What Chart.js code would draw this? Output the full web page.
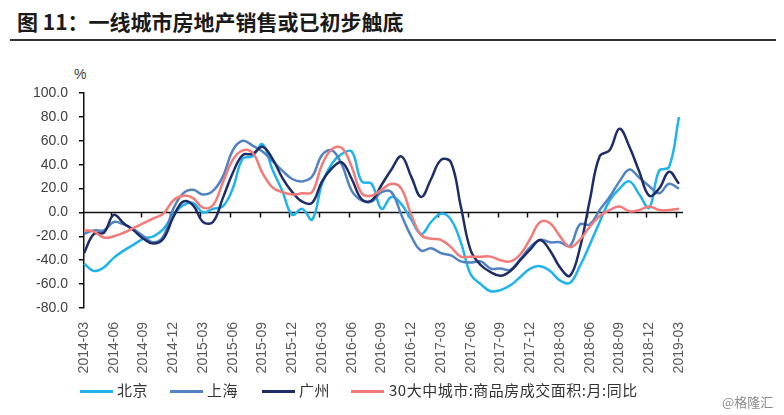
<!DOCTYPE html>
<html>
<head>
<meta charset="utf-8">
<script src="https://cdn.jsdelivr.net/npm/chart.js@4.4.0/dist/chart.umd.min.js"></script>
<style>
  html, body { margin: 0; padding: 0; background: #fff; }
  #wrap { position: relative; width: 784px; height: 415px; overflow: hidden; font-family: "Noto Sans CJK SC", sans-serif; }
  #title { position: absolute; left: 17px; top: 9px; font-size: 21px; line-height: 24px; font-weight: bold; color: #1a1a1a; white-space: nowrap; }
  #rule { position: absolute; left: 10px; top: 39px; width: 766px; border-top: 2px solid #333; }
  #unit { position: absolute; left: 74px; top: 66px; font: 14px "Liberation Sans", sans-serif; color: #404040; }
  #chart { position: absolute; left: 0; top: 0; }
  .lg { position: absolute; top: 380px; font-size: 15px; line-height: 20px; letter-spacing: 0.5px; color: #333; white-space: nowrap; }
  .sw { position: absolute; top: 390px; width: 33px; height: 3px; }
  #mark { position: absolute; left: 722px; top: 392px; font-size: 13px; color: #8a8a8a; }
</style>
</head>
<body>
<div id="wrap">
  <div id="title">图 11：一线城市房地产销售或已初步触底</div>
  <div id="rule"></div>
  <div id="unit">%</div>
  <canvas id="chart" width="784" height="415"></canvas>
  <div class="sw" style="left:80px;background:#1fb3ec"></div><div class="lg" style="left:117px">北京</div>
  <div class="sw" style="left:170px;background:#5282c2"></div><div class="lg" style="left:207px">上海</div>
  <div class="sw" style="left:262px;background:#1f2d66"></div><div class="lg" style="left:299px">广州</div>
  <div class="sw" style="left:351px;background:#f27a78"></div><div class="lg" style="left:389px">30大中城市:商品房成交面积:月:同比</div>
  <div id="mark">@格隆汇</div>
</div>
<script>
const months = [
  '2014-03','2014-04','2014-05','2014-06','2014-07','2014-08','2014-09','2014-10','2014-11','2014-12',
  '2015-01','2015-02','2015-03','2015-04','2015-05','2015-06','2015-07','2015-08','2015-09','2015-10','2015-11','2015-12',
  '2016-01','2016-02','2016-03','2016-04','2016-05','2016-06','2016-07','2016-08','2016-09','2016-10','2016-11','2016-12',
  '2017-01','2017-02','2017-03','2017-04','2017-05','2017-06','2017-07','2017-08','2017-09','2017-10','2017-11','2017-12',
  '2018-01','2018-02','2018-03','2018-04','2018-05','2018-06','2018-07','2018-08','2018-09','2018-10','2018-11','2018-12',
  '2019-01','2019-02','2019-03'
];

// 同比, %
const beijing = [-43,-49,-46,-38,-32,-27,-22,-20,-14,-2,6,8,0,3,5,20,45,47,57,36,18,-2,3,-6,24,41,49,51,26,24,3,13,7,-6,-18,-8,-1,-6,-25,-52,-60,-66,-65,-61,-54,-47,-45,-49,-57,-59,-45,-27,-8,10,20,26,15,4,35,38,80];
const shanghai = [-18,-15,-15,-8,-10,-14,-20,-25,-20,3,16,19,15,18,30,52,60,56,51,43,35,28,26,30,48,52,40,18,10,9,17,17,-2,-20,-32,-30,-34,-36,-41,-42,-41,-47,-47,-48,-39,-29,-23,-25,-25,-28,-10,-10,2,13,26,36,29,22,16,24,20];
const guangzhou = [-34,-18,-17,-2,-9,-15,-22,-26,-22,-4,9,6,-8,-8,12,33,48,49,55,45,29,17,9,8,26,37,42,28,11,10,23,36,47,30,13,28,44,42,5,-32,-44,-50,-53,-49,-40,-31,-23,-32,-46,-53,-30,10,47,52,70,55,34,14,20,34,24];
const city30 = [-15,-16,-21,-20,-17,-13,-9,-5,-1,10,14,12,4,6,25,44,52,50,33,21,17,15,16,17,40,53,54,38,16,14,19,24,20,-2,-19,-22,-23,-29,-37,-37,-37,-37,-40,-41,-35,-22,-8,-9,-20,-29,-23,-12,-3,2,5,1,2,5,2,2,3];

const seriesNames = ['北京', '上海', '广州', '30大中城市:商品房成交面积:月:同比'];
const seriesColors = ['#1fb3ec', '#5282c2', '#1f2d66', '#f27a78'];

// zero axis with tick marks every 3 months
const zeroAxis = {
  id: 'zeroAxis',
  beforeDatasetsDraw(chart) {
    const { ctx, chartArea, scales: { x, y } } = chart;
    const y0 = Math.round(y.getPixelForValue(0)) + 0.5;
    ctx.save();
    ctx.strokeStyle = '#111';
    ctx.lineWidth = 1.5;
    ctx.beginPath();
    ctx.moveTo(chartArea.left, y0);
    ctx.lineTo(chartArea.right + 4, y0);
    for (let i = 3; i < months.length; i += 3) {
      const px = Math.round(x.getPixelForValue(i)) - 2.5;
      ctx.moveTo(px, y0);
      ctx.lineTo(px, y0 + 5);
    }
    ctx.stroke();
    ctx.restore();
  }
};

const datasets = [beijing, shanghai, guangzhou, city30].map((d, i) => ({
  label: seriesNames[i],
  data: d,
  borderColor: seriesColors[i],
  borderWidth: 2.5,
  pointRadius: 0,
  tension: 0.4,
  fill: false,
  order: 4 - i
}));

new Chart(document.getElementById('chart'), {
  type: 'line',
  data: { labels: months, datasets: datasets },
  options: {
    responsive: false,
    animation: false,
    devicePixelRatio: 1,
    layout: { padding: { left: 0, top: 93, right: 105, bottom: 0 } },
    plugins: { legend: { display: false }, tooltip: { enabled: false } },
    scales: {
      x: {
        offset: false,
        grid: { display: false },
        border: { display: false },
        afterFit: s => { s.height = 107; },
        ticks: {
          autoSkip: false,
          minRotation: 90,
          maxRotation: 90,
          padding: 6,
          color: '#595959',
          font: { family: 'Liberation Sans', size: 14 },
          callback: (v, i) => (i % 3 === 0 ? months[i] : '')
        }
      },
      y: {
        min: -80,
        max: 100,
        afterFit: s => { s.width = 84; },
        border: { display: true, color: '#111', width: 1.5 },
        grid: { drawOnChartArea: false, drawTicks: true, tickLength: 5, color: '#111', lineWidth: 1.5 },
        ticks: {
          stepSize: 20,
          padding: 11,
          color: '#404040',
          font: { family: 'Liberation Sans', size: 14 },
          callback: v => v.toFixed(1)
        }
      }
    }
  },
  plugins: [zeroAxis]
});
</script>
</body>
</html>
